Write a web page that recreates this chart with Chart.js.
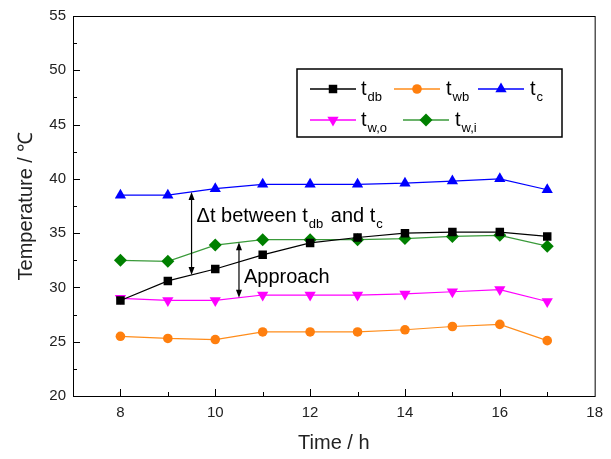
<!DOCTYPE html>
<html>
<head>
<meta charset="utf-8">
<script src="https://cdn.jsdelivr.net/npm/chart.js@4"></script>
<style>
  html, body { margin: 0; padding: 0; background: #fff; }
  #wrap { width: 611px; height: 459px; }
</style>
</head>
<body>
<div id="wrap"><canvas id="myChart" width="611" height="459"></canvas></div>
<script>
// hours of the day
var horas = [8, 9, 10, 11, 12, 13, 14, 15, 16, 17];
// temperatures (°C)
var tDb = [28.8, 30.6, 31.7, 33.0, 34.1, 34.6, 35.0, 35.1, 35.1, 34.7];
var tWb = [25.5, 25.3, 25.2, 25.9, 25.9, 25.9, 26.1, 26.4, 26.6, 25.1];
var tC  = [38.5, 38.5, 39.1, 39.5, 39.5, 39.5, 39.6, 39.8, 40.0, 39.0];
var tWo = [29.0, 28.8, 28.8, 29.3, 29.3, 29.3, 29.4, 29.6, 29.8, 28.7];
var tWi = [32.5, 32.4, 33.9, 34.4, 34.4, 34.4, 34.5, 34.7, 34.8, 33.8];
// axis ticks
var xTicks = [8, 10, 12, 14, 16, 18];
var yTicks = [20, 25, 30, 35, 40, 45, 50, 55];
// where the two double arrows sit (hours)
var deltaHora = 9.5;
var approachHora = 10.5;

var fonte = '"Liberation Sans", Arial, sans-serif';

function pontos(vals) {
    return horas.map(function (h, i) { return { x: h, y: vals[i] }; });
}

// linear interpolation along a series at hour h
function valorEm(vals, h) {
    for (var i = 0; i < horas.length - 1; i++) {
        if (h >= horas[i] && h <= horas[i + 1]) {
            var f = (h - horas[i]) / (horas[i + 1] - horas[i]);
            return vals[i] + f * (vals[i + 1] - vals[i]);
        }
    }
    return vals[vals.length - 1];
}

var series = [
    { nome: 't', sub: 'db', dados: tDb, cor: '#000000', linha: '#000000', estilo: 'rect', raio: 6 },
    { nome: 't', sub: 'wb', dados: tWb, cor: '#ff7f0e', linha: '#ff8c1a', estilo: 'circle', raio: 4.8 },
    { nome: 't', sub: 'c', dados: tC, cor: '#0000ff', linha: '#0000ff', estilo: 'triangle', raio: 6.5 },
    { nome: 't', sub: 'w,o', dados: tWo, cor: '#ff00ff', linha: '#ff00ff', estilo: 'triangle', raio: 6.5, rot: 180 },
    { nome: 't', sub: 'w,i', dados: tWi, cor: '#008000', linha: '#3a9a3a', estilo: 'rectRot', raio: 6.5 }
];

var datasets = series.map(function (s) {
    return {
        label: s.nome + s.sub,
        data: pontos(s.dados),
        borderColor: s.linha,
        backgroundColor: s.cor,
        borderWidth: 1.2,
        pointStyle: s.estilo,
        pointRadius: s.raio,
        pointRotation: s.rot || 0,
        pointBorderColor: s.cor,
        pointBackgroundColor: s.cor,
        pointBorderWidth: 0,
        pointHoverRadius: s.raio,
        tension: 0
    };
});

function textoSub(ctx, x, y, base, sub, tam) {
    ctx.font = tam + 'px ' + fonte;
    ctx.textBaseline = 'alphabetic';
    ctx.textAlign = 'left';
    ctx.fillText(base, x, y);
    var w = ctx.measureText(base).width;
    ctx.font = Math.round(tam * 0.65) + 'px ' + fonte;
    ctx.fillText(sub, x + w + 1, y + 6);
    return w + 1 + ctx.measureText(sub).width;
}

function setaDupla(ctx, x, y1, y2) {
    ctx.save();
    ctx.strokeStyle = '#000';
    ctx.fillStyle = '#000';
    ctx.lineWidth = 1.2;
    ctx.beginPath();
    ctx.moveTo(x, y1 + 4);
    ctx.lineTo(x, y2 - 4);
    ctx.stroke();
    ctx.beginPath();
    ctx.moveTo(x, y1); ctx.lineTo(x - 3, y1 + 8); ctx.lineTo(x + 3, y1 + 8); ctx.closePath();
    ctx.fill();
    ctx.beginPath();
    ctx.moveTo(x, y2); ctx.lineTo(x - 3, y2 - 8); ctx.lineTo(x + 3, y2 - 8); ctx.closePath();
    ctx.fill();
    ctx.restore();
}

var molduraPlugin = {
    id: 'moldura',
    afterDraw: function (chart) {
        var ctx = chart.ctx;
        var a = chart.chartArea;
        var xs = chart.scales.x, ys = chart.scales.y;
        ctx.save();
        ctx.strokeStyle = '#000';
        ctx.lineWidth = 1;
        ctx.strokeRect(a.left + 0.5, a.top + 0.5, a.right - a.left, a.bottom - a.top);
        // inward ticks
        ctx.beginPath();
        for (var h = 8; h <= 17; h++) {
            var px = Math.round(xs.getPixelForValue(h)) + 0.5;
            var len = (h % 2 === 0) ? 7 : 4;
            ctx.moveTo(px, a.bottom); ctx.lineTo(px, a.bottom - len);
        }
        for (var v = 22.5; v < 55; v += 2.5) {
            var py = Math.round(ys.getPixelForValue(v)) + 0.5;
            var l2 = (v % 5 === 0) ? 7 : 4;
            ctx.moveTo(a.left, py); ctx.lineTo(a.left + l2, py);
        }
        ctx.stroke();

        // double arrows with labels
        var xd = xs.getPixelForValue(deltaHora);
        var yTop = ys.getPixelForValue(valorEm(tC, deltaHora));
        var yBot = ys.getPixelForValue(valorEm(tDb, deltaHora));
        setaDupla(ctx, xd, yTop, yBot);
        ctx.fillStyle = '#000';
        var w = textoSub(ctx, xd + 5, 222, '\u0394t between t', 'db', 20);
        ctx.font = '20px ' + fonte;
        textoSub(ctx, xd + 5 + w + 2, 222, ' and t', 'c', 20);

        var xa = xs.getPixelForValue(approachHora);
        var yA1 = ys.getPixelForValue(valorEm(tWi, approachHora));
        var yA2 = ys.getPixelForValue(valorEm(tWo, approachHora));
        setaDupla(ctx, xa, yA1, yA2);
        ctx.font = '20px ' + fonte;
        ctx.textAlign = 'left';
        ctx.fillText('Approach', xa + 5, 283);

        // legend box
        ctx.fillStyle = '#fff';
        ctx.fillRect(297, 69, 265, 68);
        ctx.lineWidth = 1.5;
        ctx.strokeStyle = '#000';
        ctx.strokeRect(297, 69, 265, 68);
        var pos = [
            { x: 310, y: 89, tx: 361 },
            { x: 394, y: 89, tx: 446 },
            { x: 478, y: 89, tx: 530 },
            { x: 310, y: 120, tx: 361 },
            { x: 403, y: 120, tx: 455 }
        ];
        series.forEach(function (s, i) {
            var p = pos[i];
            ctx.strokeStyle = s.linha;
            ctx.lineWidth = 1.5;
            ctx.beginPath();
            ctx.moveTo(p.x, p.y); ctx.lineTo(p.x + 46, p.y);
            ctx.stroke();
            ctx.fillStyle = s.cor;
            ctx.strokeStyle = s.cor;
            Chart.helpers.drawPoint(ctx, { pointStyle: s.estilo, radius: s.raio, rotation: s.rot || 0, borderWidth: 0 }, p.x + 23, p.y);
            ctx.fillStyle = '#000';
            textoSub(ctx, p.tx, p.y + 6, s.nome, s.sub, 20);
        });
        ctx.restore();
    }
};

var ctx = document.getElementById('myChart');
window.myChart = new Chart(ctx, {
    type: 'line',
    data: { datasets: datasets },
    options: {
        responsive: false,
        animation: false,
        events: [],
        layout: { padding: { top: 13, right: 16, left: 0, bottom: 0 } },
        plugins: { legend: { display: false }, tooltip: { enabled: false } },
        scales: {
            x: {
                type: 'linear',
                min: 7, max: 18,
                afterBuildTicks: function (s) { s.ticks = xTicks.map(function (v) { return { value: v }; }); },
                afterFit: function (s) { s.height = 63; },
                grid: { display: false, drawTicks: false },
                border: { display: false },
                ticks: { color: '#222', font: { family: fonte, size: 15 }, padding: 8, maxRotation: 0 },
                title: { display: true, text: 'Time / h', color: '#222', font: { family: fonte, size: 20 }, padding: { top: 6 } }
            },
            y: {
                min: 20, max: 55,
                afterBuildTicks: function (s) { s.ticks = yTicks.map(function (v) { return { value: v }; }); },
                afterFit: function (s) { s.width = 73; },
                grid: { display: false, drawTicks: false },
                border: { display: false },
                ticks: { color: '#222', font: { family: fonte, size: 15 }, padding: 7 },
                title: { display: true, text: 'Temperature / \u2103', color: '#222', font: { family: fonte, size: 20 }, padding: { top: 14, bottom: 4 } }
            }
        }
    },
    plugins: [molduraPlugin]
});
</script>
</body>
</html>
